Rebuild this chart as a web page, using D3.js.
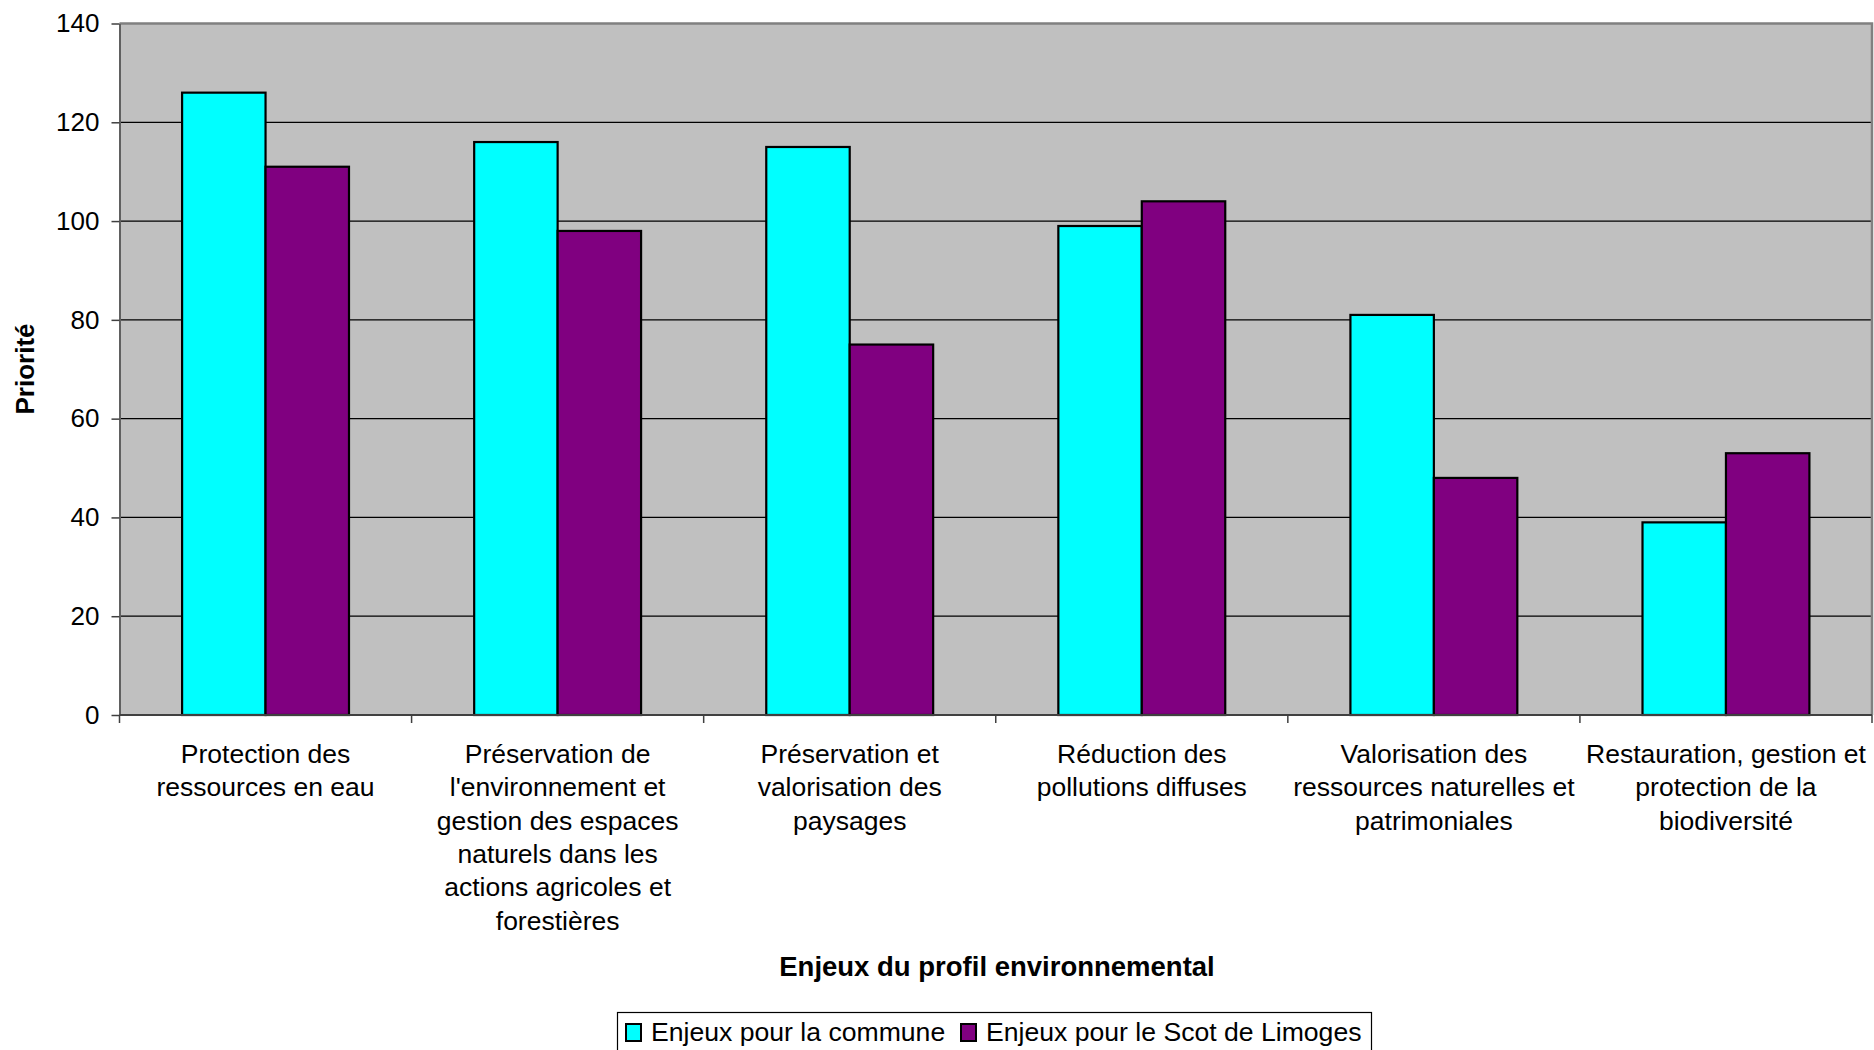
<!DOCTYPE html>
<html>
<head>
<meta charset="utf-8">
<script src="https://cdn.jsdelivr.net/npm/d3@7"></script>
<style>
  html, body { margin: 0; padding: 0; background: #fff; }
  text { font-family: "Liberation Sans", Arial, sans-serif; }
</style>
</head>
<body>
<div id="chart"></div>
<script>
// categories (already broken into lines as in the picture)
const categories = [
    ["Protection des", "ressources en eau"],
    ["Préservation de", "l'environnement et", "gestion des espaces", "naturels dans les", "actions agricoles et", "forestières"],
    ["Préservation et", "valorisation des", "paysages"],
    ["Réduction des", "pollutions diffuses"],
    ["Valorisation des", "ressources naturelles et", "patrimoniales"],
    ["Restauration, gestion et", "protection de la", "biodiversité"]
];
const communeValues = [126, 116, 115, 99, 81, 39];
const scotValues = [111, 98, 75, 104, 48, 53];
const seriesNames = ["Enjeux pour la commune", "Enjeux pour le Scot de Limoges"];
const seriesColors = ["#00FFFF", "#800080"];
const yTicks = [0, 20, 40, 60, 80, 100, 120, 140];

const width = 1874, height = 1050;
const plot = { left: 119.5, right: 1872, top: 23.5, bottom: 715 };

const svg = d3.select("#chart")
    .append("svg")
    .attr("width", width)
    .attr("height", height);

const ids = categories.map((c, i) => i);

const xScale = d3.scaleBand()
    .domain(ids)
    .range([plot.left, plot.right])
    .paddingInner(0)
    .paddingOuter(0);

// gap width 150% -> bars take 2 / 3.5 of the band
const barW = xScale.bandwidth() / 3.5;

const yScale = d3.scaleLinear()
    .domain([0, 140])
    .range([plot.bottom, plot.top]);

// plot background
svg.append("rect")
    .attr("x", plot.left)
    .attr("y", plot.top)
    .attr("width", plot.right - plot.left)
    .attr("height", plot.bottom - plot.top)
    .attr("fill", "#C0C0C0");

// gridlines
svg.append("g")
    .selectAll("line")
    .data(yTicks.filter(d => d > 0 && d < 140))
    .enter()
    .append("line")
    .attr("x1", plot.left)
    .attr("x2", plot.right)
    .attr("y1", d => yScale(d))
    .attr("y2", d => yScale(d))
    .attr("stroke", "#000")
    .attr("stroke-width", 1.2);

// plot border (top / right)
svg.append("path")
    .attr("d", `M${plot.left},${plot.top}H${plot.right}V${plot.bottom}`)
    .attr("fill", "none")
    .attr("stroke", "#808080")
    .attr("stroke-width", 2.5);

// bars
const series = [communeValues, scotValues];
series.forEach((vals, s) => {
    svg.append("g")
        .selectAll("rect")
        .data(vals)
        .enter()
        .append("rect")
        .attr("x", (d, i) => xScale(i) + xScale.bandwidth() / 2 - barW + s * barW)
        .attr("y", d => yScale(d))
        .attr("width", barW)
        .attr("height", d => yScale(0) - yScale(d))
        .attr("fill", seriesColors[s])
        .attr("stroke", "#000")
        .attr("stroke-width", 2.2);
});

// y axis
const yAxis = svg.append("g")
    .attr("transform", `translate(${plot.left},0)`)
    .call(d3.axisLeft(yScale).tickValues(yTicks).tickSize(8).tickPadding(12).tickSizeOuter(0));
yAxis.select(".domain").attr("stroke", "#606060").attr("stroke-width", 2);
yAxis.selectAll(".tick line").attr("stroke", "#404040").attr("stroke-width", 1.5);
yAxis.selectAll(".tick text")
    .attr("font-size", 26)
    .attr("fill", "#000")
    .attr("font-family", "Liberation Sans, Arial, sans-serif");

// x axis line + ticks between categories
const xAxis = svg.append("g");
xAxis.append("line")
    .attr("x1", plot.left).attr("x2", plot.right)
    .attr("y1", plot.bottom).attr("y2", plot.bottom)
    .attr("stroke", "#404040").attr("stroke-width", 2);
xAxis.selectAll("line.tk")
    .data(ids.concat([ids.length]))
    .enter()
    .append("line")
    .attr("class", "tk")
    .attr("x1", d => d < ids.length ? xScale(d) : plot.right)
    .attr("x2", d => d < ids.length ? xScale(d) : plot.right)
    .attr("y1", plot.bottom)
    .attr("y2", plot.bottom + 8)
    .attr("stroke", "#404040")
    .attr("stroke-width", 1.5);

// category labels
const labels = svg.append("g")
    .selectAll("text")
    .data(categories)
    .enter()
    .append("text")
    .attr("text-anchor", "middle")
    .attr("font-size", 26.5)
    .attr("fill", "#000");
labels.each(function (lines, i) {
    d3.select(this).selectAll("tspan")
        .data(lines)
        .enter()
        .append("tspan")
        .attr("x", xScale(i) + xScale.bandwidth() / 2)
        .attr("y", (d, k) => 763 + k * 33.3)
        .text(d => d);
});

// axis titles
svg.append("text")
    .attr("x", 997)
    .attr("y", 976)
    .attr("text-anchor", "middle")
    .attr("font-size", 27.5)
    .attr("font-weight", "bold")
    .text("Enjeux du profil environnemental");

svg.append("text")
    .attr("transform", "translate(34,369) rotate(-90)")
    .attr("text-anchor", "middle")
    .attr("font-size", 26)
    .attr("font-weight", "bold")
    .text("Priorité");

// legend
const legend = svg.append("g");
legend.append("rect")
    .attr("x", 617.5)
    .attr("y", 1012.5)
    .attr("width", 754)
    .attr("height", 50)
    .attr("fill", "#fff")
    .attr("stroke", "#000")
    .attr("stroke-width", 1.2);
const legendX = [626, 961];
seriesNames.forEach((name, s) => {
    legend.append("rect")
        .attr("x", legendX[s])
        .attr("y", 1024)
        .attr("width", 15)
        .attr("height", 17)
        .attr("fill", seriesColors[s])
        .attr("stroke", "#000")
        .attr("stroke-width", 2);
    legend.append("text")
        .attr("x", legendX[s] + 25)
        .attr("y", 1041)
        .attr("font-size", 26.6)
        .text(name);
});
</script>
</body>
</html>
